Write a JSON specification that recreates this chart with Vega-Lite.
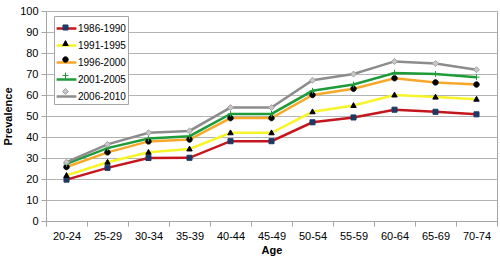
{
  "$schema": "https://vega.github.io/schema/vega-lite/v6.json",
  "width": 500,
  "height": 258,
  "autosize": {"type": "fit", "contains": "padding"},
  "padding": {"left": 2, "top": 5, "right": 2, "bottom": 3},
  "background": "white",
  "config": {
    "font": "Liberation Sans",
    "view": {"stroke": "#a6a6a6", "strokeWidth": 1},
    "axis": {"labelFont": "Liberation Sans", "titleFont": "Liberation Sans", "labelColor": "#000000", "titleColor": "#000000", "labelFontSize": 11, "titleFontSize": 11, "titleFontWeight": "bold"}
  },
  "datasets": {
    "prev": [
      {"age": "20-24", "period": "1986-1990", "value": 19.7},
      {"age": "25-29", "period": "1986-1990", "value": 25.3},
      {"age": "30-34", "period": "1986-1990", "value": 30},
      {"age": "35-39", "period": "1986-1990", "value": 30.1},
      {"age": "40-44", "period": "1986-1990", "value": 38},
      {"age": "45-49", "period": "1986-1990", "value": 38},
      {"age": "50-54", "period": "1986-1990", "value": 47},
      {"age": "55-59", "period": "1986-1990", "value": 49.3},
      {"age": "60-64", "period": "1986-1990", "value": 53},
      {"age": "65-69", "period": "1986-1990", "value": 52},
      {"age": "70-74", "period": "1986-1990", "value": 50.8},
      {"age": "20-24", "period": "1991-1995", "value": 21.7},
      {"age": "25-29", "period": "1991-1995", "value": 28},
      {"age": "30-34", "period": "1991-1995", "value": 32.7},
      {"age": "35-39", "period": "1991-1995", "value": 34.3},
      {"age": "40-44", "period": "1991-1995", "value": 42},
      {"age": "45-49", "period": "1991-1995", "value": 42},
      {"age": "50-54", "period": "1991-1995", "value": 52},
      {"age": "55-59", "period": "1991-1995", "value": 55},
      {"age": "60-64", "period": "1991-1995", "value": 60},
      {"age": "65-69", "period": "1991-1995", "value": 59},
      {"age": "70-74", "period": "1991-1995", "value": 58},
      {"age": "20-24", "period": "1996-2000", "value": 25.7},
      {"age": "25-29", "period": "1996-2000", "value": 32.7},
      {"age": "30-34", "period": "1996-2000", "value": 37.9},
      {"age": "35-39", "period": "1996-2000", "value": 38.8},
      {"age": "40-44", "period": "1996-2000", "value": 49},
      {"age": "45-49", "period": "1996-2000", "value": 49},
      {"age": "50-54", "period": "1996-2000", "value": 60},
      {"age": "55-59", "period": "1996-2000", "value": 63},
      {"age": "60-64", "period": "1996-2000", "value": 68},
      {"age": "65-69", "period": "1996-2000", "value": 66},
      {"age": "70-74", "period": "1996-2000", "value": 65},
      {"age": "20-24", "period": "2001-2005", "value": 27.2},
      {"age": "25-29", "period": "2001-2005", "value": 34.7},
      {"age": "30-34", "period": "2001-2005", "value": 39.3},
      {"age": "35-39", "period": "2001-2005", "value": 40.4},
      {"age": "40-44", "period": "2001-2005", "value": 51},
      {"age": "45-49", "period": "2001-2005", "value": 51},
      {"age": "50-54", "period": "2001-2005", "value": 62},
      {"age": "55-59", "period": "2001-2005", "value": 65},
      {"age": "60-64", "period": "2001-2005", "value": 70.5},
      {"age": "65-69", "period": "2001-2005", "value": 70},
      {"age": "70-74", "period": "2001-2005", "value": 68.5},
      {"age": "20-24", "period": "2006-2010", "value": 28},
      {"age": "25-29", "period": "2006-2010", "value": 36.5},
      {"age": "30-34", "period": "2006-2010", "value": 42},
      {"age": "35-39", "period": "2006-2010", "value": 42.9},
      {"age": "40-44", "period": "2006-2010", "value": 54},
      {"age": "45-49", "period": "2006-2010", "value": 54},
      {"age": "50-54", "period": "2006-2010", "value": 67},
      {"age": "55-59", "period": "2006-2010", "value": 70},
      {"age": "60-64", "period": "2006-2010", "value": 76},
      {"age": "65-69", "period": "2006-2010", "value": 75},
      {"age": "70-74", "period": "2006-2010", "value": 72}
    ]
  },
  "data": {"name": "prev"},
  "encoding": {
    "x": {
      "field": "age", "type": "nominal", "title": "Age",
      "scale": {"type": "band", "paddingInner": 0, "paddingOuter": 0},
      "axis": {"labelAngle": 0, "tickBand": "extent", "domainColor": "#a6a6a6", "tickColor": "#a6a6a6", "tickSize": 5, "labelPadding": 4, "titlePadding": 3}
    },
    "y": {
      "field": "value", "type": "quantitative", "title": "Prevalence",
      "scale": {"domain": [0, 100], "nice": false},
      "axis": {"values": [0, 10, 20, 30, 40, 50, 60, 70, 80, 90, 100], "gridColor": "#b3b3b3", "gridWidth": 1, "domainColor": "#a6a6a6", "tickColor": "#a6a6a6", "tickSize": 5, "labelPadding": 3, "titlePadding": 6}
    }
  },
  "layer": [
    {
      "mark": {"type": "line", "strokeWidth": 2.5},
      "encoding": {
        "stroke": {
          "field": "period", "type": "nominal",
          "scale": {"domain": ["1986-1990", "1991-1995", "1996-2000", "2001-2005", "2006-2010"], "range": ["#c4161c", "#f7f52a", "#f7a82a", "#1e9c3a", "#8c8c8c"]},
          "legend": {
            "title": null, "orient": "none", "legendX": 8, "legendY": 5,
            "symbolType": "M-1.1,0H1.1", "symbolSize": 324, "symbolStrokeWidth": 2.5, "symbolOpacity": 1,
            "padding": 2, "rowPadding": 1,
            "labelFontSize": 10, "labelColor": "#000000", "labelOffset": 1,
            "strokeColor": "#a6a6a6", "fillColor": "white"
          }
        }
      }
    },
    {
      "mark": {"type": "point", "filled": true, "strokeWidth": 1, "opacity": 1},
      "encoding": {
        "shape": {
          "field": "period", "type": "nominal",
          "scale": {"domain": ["1986-1990", "1991-1995", "1996-2000", "2001-2005", "2006-2010"], "range": [
            "M-0.28,-0.28H0.28V0.28H-0.28Z",
            "M0,-0.32L0.3,0.22H-0.3Z",
            "M-0.3,0A0.3,0.3,0,1,1,0.3,0A0.3,0.3,0,1,1,-0.3,0Z",
            "M-0.33,0H0.33M0,-0.33V0.33",
            "M0,-0.33L0.33,0L0,0.33L-0.33,0Z"
          ]},
          "legend": {
            "title": null, "orient": "none", "legendX": 8, "legendY": 5,
            "symbolSize": 324, "symbolStrokeWidth": 1, "symbolOpacity": 1,
            "padding": 2, "rowPadding": 1,
            "labelFontSize": 10, "labelExpr": "''", "labelOffset": 1,
            "strokeColor": null, "fillColor": null
          }
        },
        "fill": {
          "field": "period", "type": "nominal",
          "scale": {"domain": ["1986-1990", "1991-1995", "1996-2000", "2001-2005", "2006-2010"], "range": ["#1f3864", "#000000", "#000000", "#1e9c3a", "#c8c8c8"]}
        },
        "stroke": {
          "field": "period", "type": "nominal",
          "scale": {"domain": ["1986-1990", "1991-1995", "1996-2000", "2001-2005", "2006-2010"], "range": ["#1f3864", "#000000", "#000000", "#1e9c3a", "#a0a0a0"]}
        },
        "size": {"value": 324}
      }
    }
  ],
  "resolve": {"scale": {"shape": "independent", "fill": "independent", "stroke": "independent"}}
}
